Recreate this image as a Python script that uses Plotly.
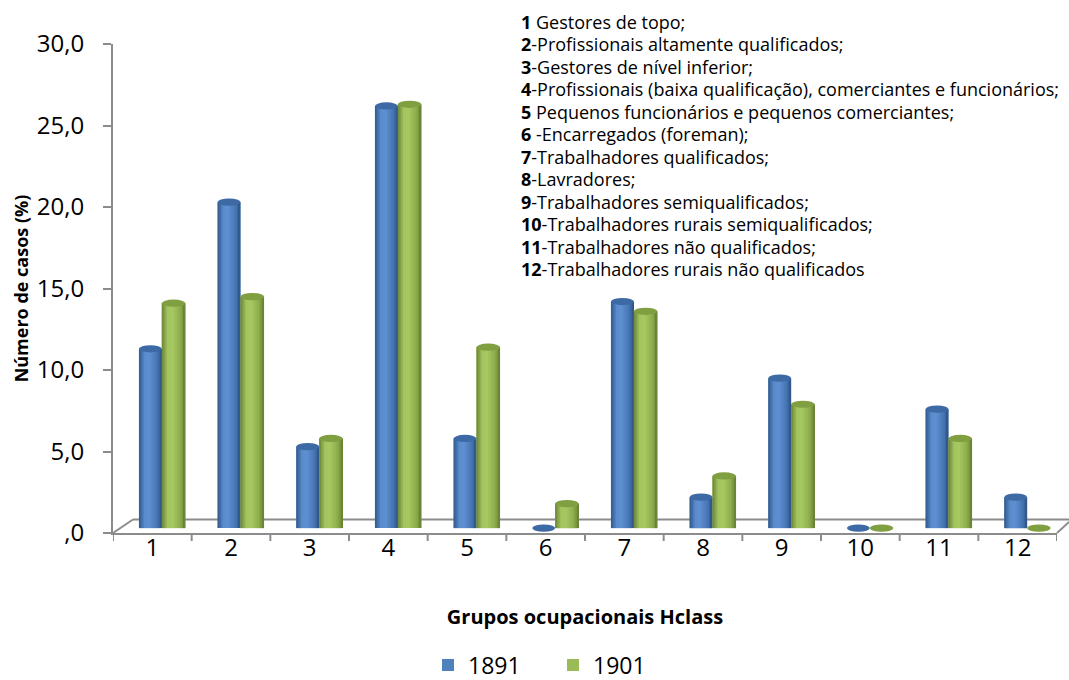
import plotly.graph_objects as go

# Occupational groups (HISCLASS) and share of cases per census year
categories = ["1", "2", "3", "4", "5", "6", "7", "8", "9", "10", "11", "12"]
values_1891 = [11.0, 20.0, 5.0, 25.9, 5.5, 0.0, 13.9, 1.9, 9.2, 0.0, 7.3, 1.9]
values_1901 = [13.8, 14.2, 5.5, 26.0, 11.1, 1.5, 13.3, 3.2, 7.6, 0.0, 5.5, 0.0]

y_tickvals = [0, 5, 10, 15, 20, 25, 30]
y_ticktext = [",0", "5,0", "10,0", "15,0", "20,0", "25,0", "30,0"]

group_labels = [
    ("1", " Gestores de topo;"),
    ("2", "-Profissionais altamente qualificados;"),
    ("3", "-Gestores de nível inferior;"),
    ("4", "-Profissionais (baixa qualificação), comerciantes e funcionários;"),
    ("5", " Pequenos funcionários e pequenos comerciantes;"),
    ("6", " -Encarregados (foreman);"),
    ("7", "-Trabalhadores qualificados;"),
    ("8", "-Lavradores;"),
    ("9", "-Trabalhadores semiqualificados;"),
    ("10", "-Trabalhadores rurais semiqualificados;"),
    ("11", "-Trabalhadores não qualificados;"),
    ("12", "-Trabalhadores rurais não qualificados"),
]

FONT = "Open Sans"
W, H = 1069, 680
L, R, T, B = 113, 12, 44, 147
PW, PH = W - L - R, H - T - B


def px_x(px):
    return (px - L) / PW


def px_y(py):
    return (H - B - py) / PH


def hex_rgb(h):
    h = h.lstrip("#")
    return tuple(int(h[i:i + 2], 16) for i in (0, 2, 4))


def gradient(stops, t):
    for (t0, c0), (t1, c1) in zip(stops, stops[1:]):
        if t0 <= t <= t1:
            a, b = hex_rgb(c0), hex_rgb(c1)
            f = (t - t0) / (t1 - t0) if t1 > t0 else 0
            return "rgb(%d,%d,%d)" % tuple(round(a[k] + (b[k] - a[k]) * f) for k in range(3))
    return stops[-1][1]


series = [
    dict(name="1891", values=values_1891, base="#4f81bd", cap="#3d6aa5",
         offset=-0.17, width=0.29,
         stops=[(0, "#2f5889"), (0.25, "#5a8bcc"), (0.45, "#5f90d2"),
                (0.8, "#4675b3"), (1, "#2d5384")]),
    dict(name="1901", values=values_1901, base="#9bbb59", cap="#809f41",
         offset=0.12, width=0.30,
         stops=[(0, "#6a8436"), (0.25, "#a3c45e"), (0.45, "#a7c862"),
                (0.8, "#8cab4b"), (1, "#647c31")]),
]

fig = go.Figure()
N = 14

# Empty trace that anchors the labelled value axis
fig.add_trace(go.Scatter(x=categories, y=[None] * len(categories), mode="lines",
                         showlegend=False, hoverinfo="skip"))

# Base bars (these carry the legend entries)
for s in series:
    fig.add_trace(go.Bar(
        x=categories, y=s["values"], name=s["name"], xaxis="x", yaxis="y2",
        offset=s["offset"], width=s["width"],
        marker=dict(color=s["base"], line=dict(width=0)),
        hoverinfo="skip",
    ))

# Narrow strips over each bar for the cylindrical shading
for s in series:
    for k in range(N):
        t = (k + 0.5) / N
        fig.add_trace(go.Bar(
            x=categories, y=s["values"], xaxis="x", yaxis="y2",
            offset=s["offset"] + s["width"] * k / N,
            width=s["width"] / N * (1.6 if k < N - 1 else 1.0),
            marker=dict(color=gradient(s["stops"], t), line=dict(width=0)),
            showlegend=False, hoverinfo="skip",
        ))

shapes = []
# Elliptical tops of the cylinders
for s in series:
    for i, v in enumerate(s["values"]):
        shapes.append(dict(
            type="circle", xref="x", yref="y2", layer="above",
            x0=i + s["offset"], x1=i + s["offset"] + s["width"],
            y0=v - 0.22, y1=v + 0.22,
            fillcolor=s["cap"], line=dict(width=0),
        ))

# Floor of the 3D plot area
floor_color = "#8c8c8c"
floor_lines = [
    (113, 533, 133, 519.5),
    (133, 519.5, 1069, 519.5),
    (1057, 533, 1069, 522),
]
for x0, y0, x1, y1 in floor_lines:
    shapes.append(dict(type="line", xref="paper", yref="paper",
                       x0=px_x(x0), y0=px_y(y0), x1=px_x(x1), y1=px_y(y1),
                       line=dict(color=floor_color, width=2), layer="below"))

# Category boundary ticks below the horizontal axis
for i in range(len(categories) + 1):
    shapes.append(dict(type="line", xref="x", yref="paper",
                       x0=i - 0.5, x1=i - 0.5, y0=0, y1=px_y(541),
                       line=dict(color=floor_color, width=2)))

annotations = []
for i, (num, txt) in enumerate(group_labels):
    annotations.append(dict(
        xref="paper", yref="paper", x=px_x(519), y=px_y(22 + 22.45 * i),
        xanchor="left", yanchor="middle", showarrow=False,
        text="<b>%s</b>%s" % (num, txt),
        font=dict(family=FONT, size=18, color="#000000"),
    ))

fig.update_layout(
    width=W, height=H,
    margin=dict(l=L, r=R, t=T, b=B, autoexpand=False),
    paper_bgcolor="white", plot_bgcolor="white",
    barmode="overlay",
    font=dict(family=FONT, color="#000000"),
    xaxis=dict(
        type="category", categoryorder="array", categoryarray=categories,
        range=[-0.5, 11.5], showgrid=False, zeroline=False, automargin=False,
        showline=True, linecolor=floor_color, linewidth=2,
        ticks="", ticklabelstandoff=-8,
        tickfont=dict(family=FONT, size=24, color="#000000"),
        title=dict(text="<b>Grupos ocupacionais Hclass</b>", standoff=48,
                   font=dict(family=FONT, size=20, color="#000000")),
    ),
    yaxis=dict(
        range=[0, 30], tickvals=y_tickvals, ticktext=y_ticktext,
        showgrid=False, zeroline=False, automargin=False,
        showline=True, linecolor=floor_color, linewidth=2,
        ticks="outside", ticklen=8, tickwidth=2, tickcolor=floor_color,
        ticklabelstandoff=14,
        tickfont=dict(family=FONT, size=24, color="#000000"),
        title=dict(text="<b>Número de casos (%)</b>", standoff=4,
                   font=dict(family=FONT, size=18, color="#000000")),
    ),
    yaxis2=dict(range=[-0.3, 29.7], overlaying="y", visible=False),
    legend=dict(
        orientation="h", x=px_x(553), y=px_y(665),
        xanchor="center", yanchor="middle",
        font=dict(family=FONT, size=23, color="#000000"),
        entrywidth=80, entrywidthmode="pixels",
        itemwidth=30, traceorder="normal",
    ),
    shapes=shapes,
    annotations=annotations,
)

fig.write_html("out.html")
